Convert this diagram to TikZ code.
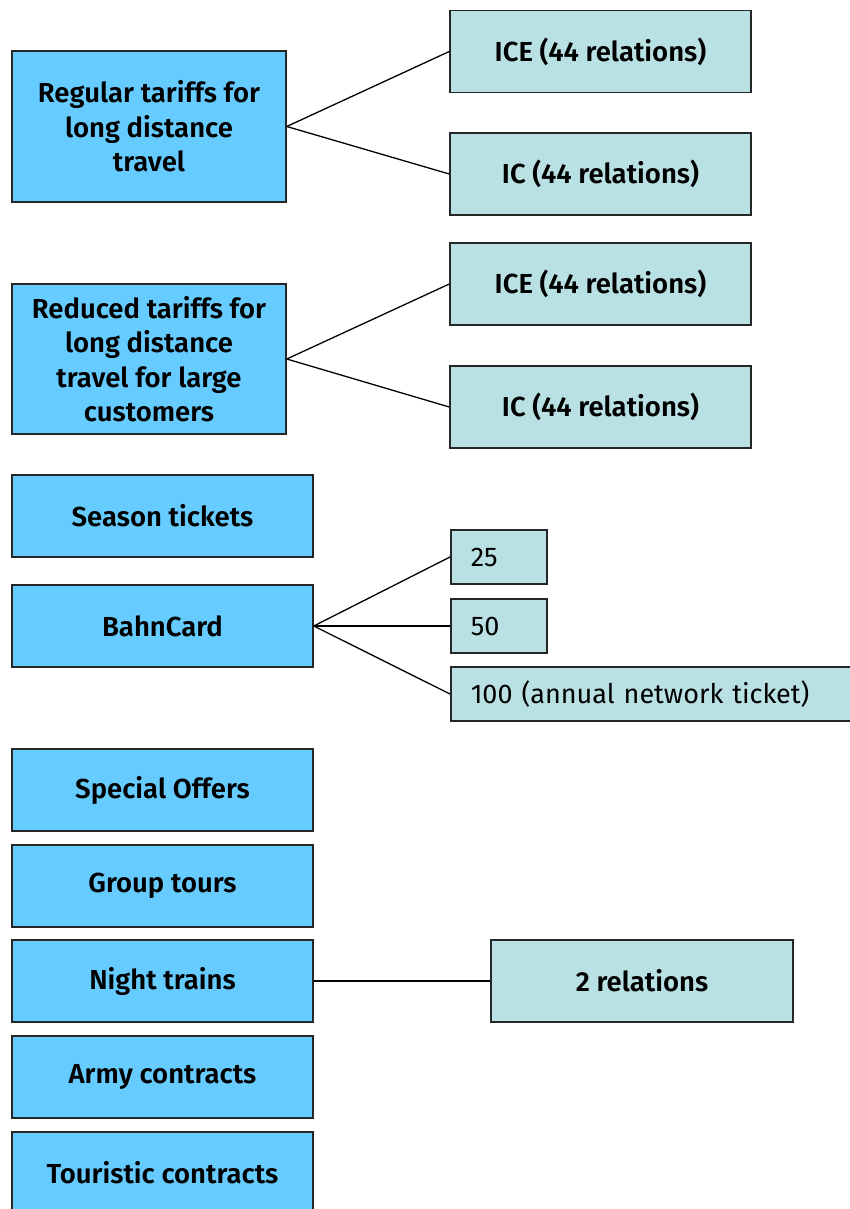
\documentclass[tikz,border=0pt]{standalone}
\usepackage{fontspec}
\setmainfont{Fira Sans}[BoldFont={Fira Sans SemiBold}]
\definecolor{bluefill}{HTML}{66CCFF}
\definecolor{tealfill}{HTML}{B9E0E3}
\begin{document}
\begin{tikzpicture}[x=1pt,y=-1pt,
  box/.style={draw=black!85, line width=1.5pt, inner sep=0pt, align=center, font=\fontsize{27.5}{34.5}\selectfont\bfseries},
  bluebox/.style={box, fill=bluefill},
  tealbox/.style={box, fill=tealfill},
  numbox/.style={draw=black!85, line width=1.5pt, fill=tealfill, inner ysep=0pt, inner xsep=20pt, align=left, font=\fontsize{27}{34.5}\selectfont},
  conn/.style={line width=1.3pt, draw=black}]
\useasboundingbox (0,0) rectangle (850,1209);
% left boxes
\node[bluebox, minimum width=274pt, minimum height=151pt] (A) at (149,126.5) {Regular tariffs for\\long distance\\travel};
\node[bluebox, minimum width=274pt, minimum height=150pt] (B) at (149,359) {Reduced tariffs for\\long distance\\travel for large\\customers};
\node[bluebox, minimum width=301pt, minimum height=82pt] (S) at (162.5,516) {Season tickets};
\node[bluebox, minimum width=301pt, minimum height=82pt] (BC) at (162.5,626) {BahnCard};
\node[bluebox, minimum width=301pt, minimum height=82pt] (SO) at (162.5,790) {Special Offers};
\node[bluebox, minimum width=301pt, minimum height=82pt] (G) at (162.5,886) {Group tours};
\node[bluebox, minimum width=301pt, minimum height=82pt] (N) at (162.5,981) {Night trains};
\node[bluebox, minimum width=301pt, minimum height=82pt] (AR) at (162.5,1077) {Army contracts};
\node[bluebox, minimum width=301pt, minimum height=82pt] (T) at (162.5,1173) {Touristic contracts};
% right boxes
\node[tealbox, minimum width=301pt, minimum height=82pt] (ICE1) at (600.5,51.5) {ICE (44 relations)};
\node[tealbox, minimum width=301pt, minimum height=82pt] (IC1) at (600.5,174) {IC (44 relations)};
\node[tealbox, minimum width=301pt, minimum height=82pt] (ICE2) at (600.5,284) {ICE (44 relations)};
\node[tealbox, minimum width=301pt, minimum height=82pt] (IC2) at (600.5,407) {IC (44 relations)};
\node[tealbox, minimum width=302pt, minimum height=82pt] (R2) at (642,981) {2 relations};
\node[numbox, minimum height=54pt, anchor=west, text width=56pt] (N25) at (450,557) {25};
\node[numbox, minimum height=54pt, anchor=west, text width=56pt] (N50) at (450,626) {50};
\node[numbox, minimum height=54pt, anchor=west, text width=380pt] (N100) at (450,694) {100 (annual network ticket)};
% connectors
\draw[conn] (A.east) -- (ICE1.west);
\draw[conn] (A.east) -- (IC1.west);
\draw[conn] (B.east) -- (ICE2.west);
\draw[conn] (B.east) -- (IC2.west);
\draw[conn] (BC.east) -- (N25.west);
\draw[conn] (BC.east) -- (N50.west);
\draw[conn] (BC.east) -- (N100.west);
\draw[conn] (N.east) -- (R2.west);
\end{tikzpicture}
\end{document}
